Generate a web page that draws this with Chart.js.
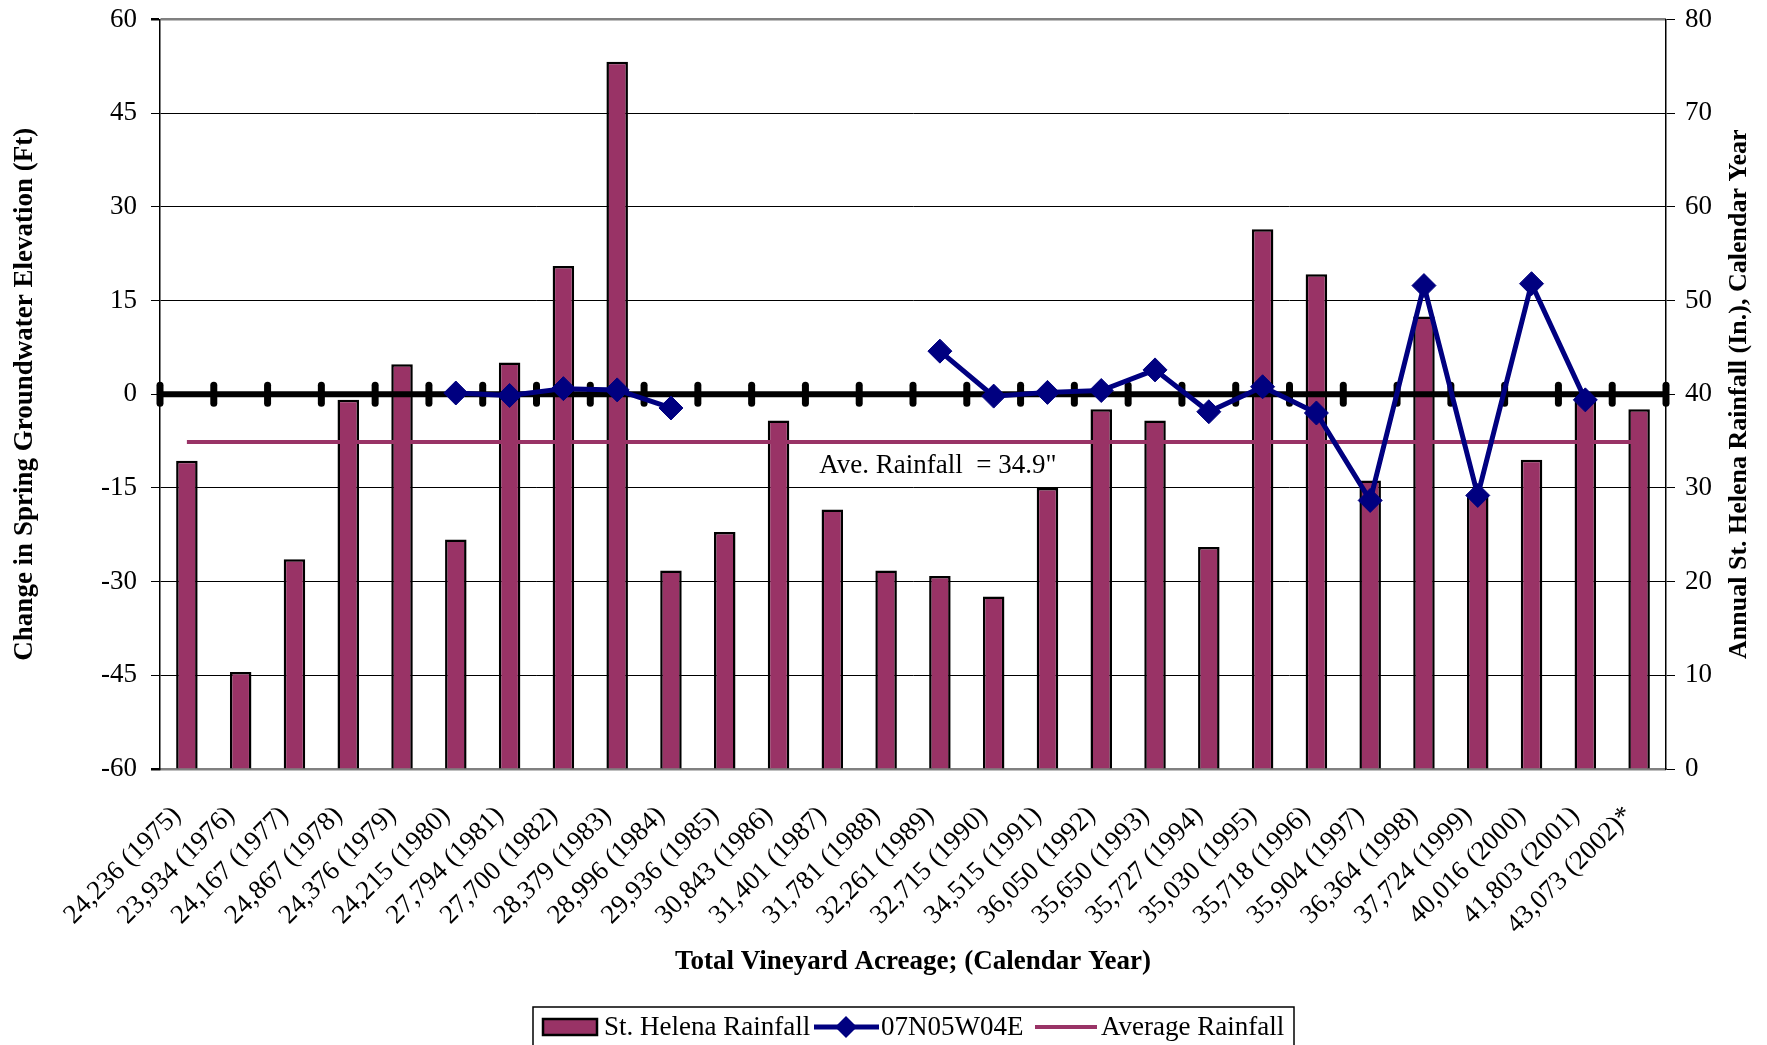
<!DOCTYPE html>
<html>
<head>
<meta charset="utf-8">
<script src="https://cdn.jsdelivr.net/npm/chart.js@4.4.1/dist/chart.umd.min.js"></script>
<style>
  html, body { margin: 0; padding: 0; background: #fff; }
</style>
</head>
<body>
<canvas id="myChart" width="1767" height="1045"></canvas>
<script>
// categories: total vineyard acreage (calendar year)
const acreageLabels = [
  '24,236 (1975)', '23,934 (1976)', '24,167 (1977)', '24,867 (1978)', '24,376 (1979)',
  '24,215 (1980)', '27,794 (1981)', '27,700 (1982)', '28,379 (1983)', '28,996 (1984)',
  '29,936 (1985)', '30,843 (1986)', '31,401 (1987)', '31,781 (1988)', '32,261 (1989)',
  '32,715 (1990)', '34,515 (1991)', '36,050 (1992)', '35,650 (1993)', '35,727 (1994)',
  '35,030 (1995)', '35,718 (1996)', '35,904 (1997)', '36,364 (1998)', '37,724 (1999)',
  '40,016 (2000)', '41,803 (2001)', '43,073 (2002)*'
];

// annual St. Helena rainfall (in.), right axis
const rainfall = [
  32.9, 10.35, 22.4, 39.4, 43.2, 24.5, 43.4, 53.7, 75.5, 21.2,
  25.3, 37.2, 27.7, 21.2, 20.6, 18.4, 30.0, 38.4, 37.2, 23.7,
  57.6, 52.8, 30.8, 48.3, 29.1, 33.0, 39.6, 38.4
];

// change in spring groundwater elevation (ft), well 07N05W04E, left axis
const wellChange = [
  null, null, null, null, null, 0.2, -0.2, 0.9, 0.7, -2.2,
  null, null, null, null, 6.9, -0.3, 0.3, 0.6, 3.9, -2.8,
  1.2, -3.0, -17.0, 17.4, -16.2, 17.7, -0.9, null
];

const aveRainfall = 34.9;
const aveLine = acreageLabels.map(() => aveRainfall);

const leftMin = -60, leftMax = 60, leftStep = 15;
const rightMin = 0, rightMax = 80, rightStep = 10;

const plum = '#993366';
const navy = '#000080';
const serif = "'Liberation Serif', 'Times New Roman', serif";
const fs = 27;

// thick black category axis crossing at 0, with cross tick marks
const zeroAxis = {
  id: 'zeroAxis',
  afterDatasetDraw(chart, args) {
    if (args.index !== 0) return;
    const { ctx, chartArea, scales } = chart;
    const y0 = scales.y.getPixelForValue(0);
    const step = scales.x.getPixelForValue(1) - scales.x.getPixelForValue(0);
    const start = scales.x.getPixelForValue(0) - step / 2;
    ctx.save();
    ctx.strokeStyle = '#000';
    ctx.lineWidth = 6;
    ctx.beginPath();
    ctx.moveTo(chartArea.left, y0);
    ctx.lineTo(chartArea.right, y0);
    ctx.stroke();
    ctx.lineCap = 'round';
    ctx.lineWidth = 7;
    for (let i = 0; i <= acreageLabels.length; i++) {
      const x = start + i * step;
      ctx.beginPath();
      ctx.moveTo(x, y0 - 9);
      ctx.lineTo(x, y0 + 9);
      ctx.stroke();
    }
    ctx.restore();
  }
};

// right axis title (reads bottom to top), annotation and legend
const extras = {
  id: 'extras',
  afterDraw(chart) {
    const { ctx, chartArea, scales } = chart;
    ctx.save();
    ctx.fillStyle = '#000';

    ctx.font = 'bold 26px ' + serif;
    ctx.textAlign = 'center';
    ctx.textBaseline = 'middle';
    ctx.translate(1739, (chartArea.top + chartArea.bottom) / 2);
    ctx.rotate(-Math.PI / 2);
    ctx.fillText('Annual St. Helena Rainfall (In.), Calendar Year', 0, 0);
    ctx.setTransform(1, 0, 0, 1, 0, 0);

    ctx.font = fs + 'px ' + serif;
    ctx.fillText('Ave. Rainfall  = 34.9"', scales.x.getPixelForValue(14) - 2, scales.y1.getPixelForValue(32.3));

    // legend
    ctx.strokeStyle = '#000';
    ctx.lineWidth = 1.5;
    ctx.strokeRect(533, 1007, 761, 50);
    ctx.fillStyle = plum;
    ctx.fillRect(543, 1019, 54, 16);
    ctx.lineWidth = 2.5;
    ctx.strokeRect(543, 1019, 54, 16);

    ctx.strokeStyle = navy;
    ctx.lineWidth = 5;
    ctx.beginPath();
    ctx.moveTo(814, 1027);
    ctx.lineTo(879, 1027);
    ctx.stroke();
    ctx.fillStyle = navy;
    ctx.beginPath();
    ctx.moveTo(846, 1016); ctx.lineTo(857, 1027); ctx.lineTo(846, 1038); ctx.lineTo(835, 1027);
    ctx.closePath();
    ctx.fill();

    ctx.strokeStyle = plum;
    ctx.lineWidth = 4;
    ctx.beginPath();
    ctx.moveTo(1035, 1027);
    ctx.lineTo(1097, 1027);
    ctx.stroke();

    ctx.fillStyle = '#000';
    ctx.textAlign = 'left';
    ctx.font = fs + 'px ' + serif;
    ctx.fillText('St. Helena Rainfall', 604, 1028);
    ctx.fillText('07N05W04E', 881, 1028);
    ctx.fillText('Average Rainfall', 1101, 1028);
    ctx.restore();
  }
};

new Chart(document.getElementById('myChart'), {
  type: 'bar',
  data: {
    labels: acreageLabels,
    datasets: [
      {
        type: 'bar',
        label: 'St. Helena Rainfall',
        data: rainfall,
        yAxisID: 'y1',
        backgroundColor: plum,
        borderColor: '#000',
        borderWidth: 2.5,
        barPercentage: 0.4,
        categoryPercentage: 1.0,
        order: 3
      },
      {
        type: 'line',
        label: '07N05W04E',
        data: wellChange,
        yAxisID: 'y',
        borderColor: navy,
        backgroundColor: navy,
        borderWidth: 5,
        pointStyle: 'rectRot',
        pointRadius: 12,
        pointBorderWidth: 1,
        spanGaps: false,
        tension: 0,
        order: 1
      },
      {
        type: 'line',
        label: 'Average Rainfall',
        data: aveLine,
        yAxisID: 'y1',
        borderColor: plum,
        borderWidth: 4,
        pointRadius: 0,
        order: 2
      }
    ]
  },
  options: {
    responsive: false,
    animation: false,
    layout: { padding: { top: 19.5, bottom: 60, left: 0, right: 0 } },
    plugins: {
      legend: { display: false },
      tooltip: { enabled: false }
    },
    scales: {
      x: {
        type: 'category',
        offset: true,
        afterFit(scale) { scale.height = 216; },
        grid: { display: false },
        border: { display: true, color: '#808080', width: 2 },
        ticks: {
          color: '#000',
          font: { family: serif, size: fs },
          maxRotation: 45,
          minRotation: 45,
          autoSkip: false,
          padding: 23,
          labelOffset: -10
        },
        title: {
          display: true,
          text: 'Total Vineyard Acreage; (Calendar Year)',
          color: '#000',
          font: { family: serif, size: fs, weight: 'bold' },
          padding: { top: 0, bottom: 7 }
        }
      },
      y: {
        position: 'left',
        min: leftMin,
        max: leftMax,
        afterFit(scale) { scale.width = 160; scale.paddingTop = 0; scale.paddingBottom = 0; },
        ticks: {
          stepSize: leftStep,
          color: '#000',
          font: { family: serif, size: fs },
          padding: 14
        },
        grid: {
          color: (c) => (c.tick && (c.tick.value === leftMax || c.tick.value === leftMin)) ? '#808080' : '#000',
          lineWidth: (c) => (c.tick && (c.tick.value === leftMax || c.tick.value === leftMin)) ? 2.5 : 1,
          tickColor: '#000',
          tickLength: 9
        },
        border: { display: true, color: '#000', width: 1.5 },
        title: {
          display: true,
          text: 'Change in Spring Groundwater Elevation (Ft)',
          color: '#000',
          font: { family: serif, size: fs, weight: 'bold' },
          padding: { top: 9, bottom: 0 }
        }
      },
      y1: {
        position: 'right',
        min: rightMin,
        max: rightMax,
        afterFit(scale) { scale.width = 101; scale.paddingTop = 0; scale.paddingBottom = 0; },
        ticks: {
          stepSize: rightStep,
          color: '#000',
          font: { family: serif, size: fs },
          padding: 10
        },
        grid: {
          drawOnChartArea: false,
          tickColor: '#000',
          tickLength: 9
        },
        border: { display: true, color: '#000', width: 1.5 }
      }
    }
  },
  plugins: [zeroAxis, extras]
});
</script>
</body>
</html>
